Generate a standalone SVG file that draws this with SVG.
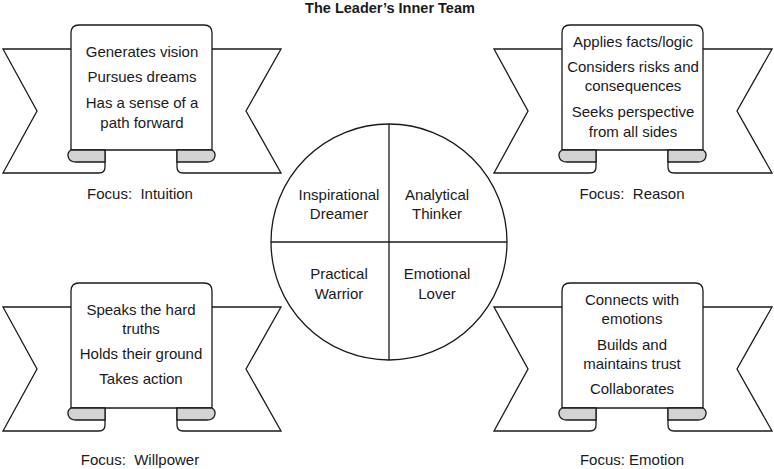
<svg xmlns="http://www.w3.org/2000/svg" xmlns:xlink="http://www.w3.org/1999/xlink" width="774" height="469" viewBox="0 0 774 469">
<style>
.ln{fill:#fff;stroke:#1a1a1a;stroke-width:1.3;stroke-linejoin:miter}
.curl{fill:#d1d3d4;stroke:#1a1a1a;stroke-width:1.3}
.t{font-family:"Liberation Sans",Arial,sans-serif;font-size:15px;fill:#1a1a1a;text-anchor:middle}
.title{font-family:"Liberation Sans",Arial,sans-serif;font-size:14.5px;font-weight:bold;fill:#1a1a1a;text-anchor:middle}
</style>
<defs>
<g id="banner">
<path class="ln" d="M34,125 L34,142 Q34,148 28,148 L-68,148 L-34,86 L-68,24 L210,24 L175,86 L210,148 L112,148 Q106,148 106,142 L106,125"/>
<path class="ln" d="M0,125 L0,8 Q0,0 8,0 L133,0 Q141,0 141,8 L141,125 Z"/>
<path class="curl" d="M0,125 C-5,128 -4,137 5,137 L34,137 L34,125 Z"/>
<path class="curl" d="M141,125 C146,128 145,137 136,137 L106,137 L106,125 Z"/>
</g>
</defs>
<rect width="774" height="469" fill="#fff"/>
<text class="title" x="390" y="13">The Leader’s Inner Team</text>

<g id="dreamer-banner">
<use xlink:href="#banner" href="#banner" transform="translate(71,25)"/>
<text class="t" x="142" y="57">Generates vision</text>
<text class="t" x="142" y="82">Pursues dreams</text>
<text class="t" x="142" y="107.5">Has a sense of a</text>
<text class="t" x="142" y="127.5">path forward</text>
<text class="t" x="140" y="199" xml:space="preserve">Focus:  Intuition</text>
</g>

<g id="thinker-banner">
<use xlink:href="#banner" href="#banner" transform="translate(562,25)"/>
<text class="t" x="633" y="47">Applies facts/logic</text>
<text class="t" x="633" y="71.5">Considers risks and</text>
<text class="t" x="633" y="91">consequences</text>
<text class="t" x="633" y="117">Seeks perspective</text>
<text class="t" x="633" y="136.5">from all sides</text>
<text class="t" x="632" y="199" xml:space="preserve">Focus:  Reason</text>
</g>

<g id="warrior-banner">
<use xlink:href="#banner" href="#banner" transform="translate(71,283)"/>
<text class="t" x="141" y="314.5">Speaks the hard</text>
<text class="t" x="141" y="333.5">truths</text>
<text class="t" x="141" y="359">Holds their ground</text>
<text class="t" x="141" y="384">Takes action</text>
<text class="t" x="140" y="465" xml:space="preserve">Focus:  Willpower</text>
</g>

<g id="lover-banner">
<use xlink:href="#banner" href="#banner" transform="translate(562,283)"/>
<text class="t" x="632" y="304.5">Connects with</text>
<text class="t" x="632" y="323.5">emotions</text>
<text class="t" x="632" y="349.5">Builds and</text>
<text class="t" x="632" y="369">maintains trust</text>
<text class="t" x="632" y="394">Collaborates</text>
<text class="t" x="632" y="465">Focus: Emotion</text>
</g>

<g id="inner-team-circle">
<circle class="ln" cx="389" cy="242" r="118"/>
<line class="ln" x1="389" y1="124" x2="389" y2="360"/>
<line class="ln" x1="271" y1="242" x2="507" y2="242"/>
<text class="t" x="339" y="199.5">Inspirational</text>
<text class="t" x="339" y="218.5">Dreamer</text>
<text class="t" x="437" y="199.5">Analytical</text>
<text class="t" x="437" y="218.5">Thinker</text>
<text class="t" x="339" y="278.5">Practical</text>
<text class="t" x="339" y="298.5">Warrior</text>
<text class="t" x="437" y="278.5">Emotional</text>
<text class="t" x="437" y="298.5">Lover</text>
</g>
<g id="connectors"></g>
</svg>
